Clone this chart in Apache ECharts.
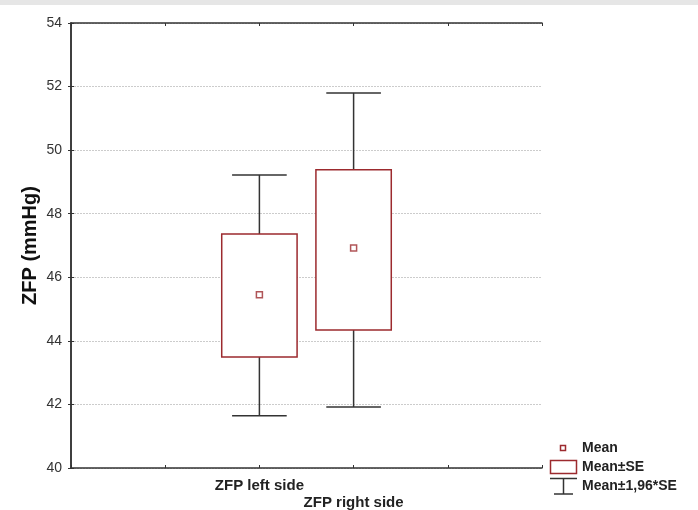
<!DOCTYPE html>
<html><head><meta charset="utf-8">
<script src="https://cdn.jsdelivr.net/npm/echarts@6/dist/echarts.min.js"></script>
<style>html,body{margin:0;padding:0;background:#fff}#c{width:698px;height:510px}</style>
</head><body><div id="c"></div>
<script>
const categories = ['ZFP left side', 'ZFP right side'];
const catPos = [2, 3];
const means = [45.45, 46.92];
const seLow = [43.49, 44.34];
const seHigh = [47.36, 49.38];
const ciLow = [41.64, 41.92];
const ciHigh = [49.22, 51.80];
const yTicks = [40, 42, 44, 46, 48, 50, 52, 54];

const RED = '#9c2a2e';
const DARK = '#333333';
const chart = echarts.init(document.getElementById('c'));

const boxData = categories.map((c, i) => [catPos[i], seLow[i], seHigh[i], ciLow[i], ciHigh[i]]);
const meanData = categories.map((c, i) => [catPos[i], means[i]]);

function renderBox(params, api) {
  const x = api.value(0);
  const lo = api.coord([x, api.value(1)]);
  const hi = api.coord([x, api.value(2)]);
  const wLo = api.coord([x, api.value(3)]);
  const wHi = api.coord([x, api.value(4)]);
  const unit = api.size([1, 0])[0];
  const bw = unit * 0.8;
  const cw = unit * 0.58;
  const cx = lo[0];
  return {
    type: 'group',
    children: [
      {type: 'line', shape: {x1: cx, y1: hi[1], x2: cx, y2: wHi[1]}, style: {stroke: DARK, lineWidth: 1.5}},
      {type: 'line', shape: {x1: cx, y1: lo[1], x2: cx, y2: wLo[1]}, style: {stroke: DARK, lineWidth: 1.5}},
      {type: 'line', shape: {x1: cx - cw / 2, y1: wHi[1], x2: cx + cw / 2, y2: wHi[1]}, style: {stroke: DARK, lineWidth: 1.5}},
      {type: 'line', shape: {x1: cx - cw / 2, y1: wLo[1], x2: cx + cw / 2, y2: wLo[1]}, style: {stroke: DARK, lineWidth: 1.5}},
      {type: 'rect', shape: {x: cx - bw / 2, y: hi[1], width: bw, height: lo[1] - hi[1]}, style: {fill: '#fff', stroke: RED, lineWidth: 1.5}}
    ]
  };
}

const font = 'Arial, "Liberation Sans", sans-serif';
const lblStyle = {fontFamily: font, fontSize: 15, color: '#222', fontWeight: 'bold'};

chart.setOption({
  animation: false,
  backgroundColor: '#fff',
  grid: {left: 71, right: 156, top: 23, bottom: 42, outerBoundsMode: 'none', containLabel: false},
  xAxis: [
    {type: 'value', min: 0, max: 5, interval: 1, position: 'bottom',
     axisLine: {show: true, lineStyle: {color: DARK, width: 1.5}},
     axisTick: {show: true, inside: true, length: 3, lineStyle: {color: DARK}},
     splitLine: {show: false},
     axisLabel: {show: true, margin: 10, interval: 0,
       formatter: function (v) { const i = catPos.indexOf(v); if (i < 0) return ''; return i === 0 ? '{a|' + categories[i] + '}' : '{b|' + categories[i] + '}'; },
       rich: {a: Object.assign({}, lblStyle, {padding: [0, 0, 0, 0]}), b: Object.assign({}, lblStyle, {padding: [17, 0, 0, 0]})}
     }},
    {type: 'value', min: 0, max: 5, interval: 1, position: 'top',
     axisLine: {show: true, lineStyle: {color: DARK, width: 1.5}},
     axisTick: {show: true, inside: true, length: 3, lineStyle: {color: DARK}},
     splitLine: {show: false}, axisLabel: {show: false}}
  ],
  yAxis: [
    {type: 'value', min: 40, max: 54, interval: 2, position: 'left',
     name: 'ZFP (mmHg)', nameLocation: 'middle', nameGap: 31, nameMoveOverlap: false,
     nameTextStyle: {fontFamily: font, fontSize: 20, fontWeight: 'bold', color: '#111'},
     axisLine: {show: true, lineStyle: {color: DARK, width: 1.5}},
     axisTick: {show: true, inside: true, length: 3, lineStyle: {color: DARK}},
     axisLabel: {fontFamily: font, fontSize: 14, color: '#333', margin: 9,
       formatter: function (v) { return yTicks.indexOf(v) >= 0 ? String(v) : ''; }},
     splitLine: {show: true, lineStyle: {color: '#cccccc', type: [2, 1], width: 1}}},
    {type: 'value', min: 40, max: 54, interval: 2, position: 'right',
     axisLine: {show: true, lineStyle: {color: DARK, width: 1.5}},
     axisTick: {show: true, inside: true, length: 3, lineStyle: {color: DARK}},
     axisLabel: {show: false}, splitLine: {show: false}}
  ],
  series: [
    {type: 'custom', renderItem: renderBox, data: boxData, encode: {x: 0, y: [1, 2, 3, 4]}, z: 3},
    {type: 'scatter', data: meanData, symbol: 'rect', symbolSize: 6,
     itemStyle: {color: '#fff', borderColor: RED, borderWidth: 1.5}, z: 5}
  ],
  graphic: [
    {type: 'rect', shape: {x: 0, y: 0, width: 698, height: 5}, style: {fill: '#e6e6e6'}, silent: true},
    {type: 'rect', shape: {x: 560.5, y: 445.5, width: 5, height: 5}, style: {fill: '#fff', stroke: RED, lineWidth: 1.5}},
    {type: 'text', x: 582, y: 448, style: {text: 'Mean', fontFamily: font, fontSize: 14, fontWeight: 'bold', fill: '#222', verticalAlign: 'middle'}},
    {type: 'rect', shape: {x: 550.5, y: 460.5, width: 26, height: 13}, style: {fill: '#fff', stroke: RED, lineWidth: 1.5}},
    {type: 'text', x: 582, y: 467, style: {text: 'Mean±SE', fontFamily: font, fontSize: 14, fontWeight: 'bold', fill: '#222', verticalAlign: 'middle'}},
    {type: 'line', shape: {x1: 550, y1: 478.5, x2: 577, y2: 478.5}, style: {stroke: DARK, lineWidth: 1.5}},
    {type: 'line', shape: {x1: 563.5, y1: 478.5, x2: 563.5, y2: 494}, style: {stroke: DARK, lineWidth: 1.5}},
    {type: 'line', shape: {x1: 554, y1: 494, x2: 573, y2: 494}, style: {stroke: DARK, lineWidth: 1.5}},
    {type: 'text', x: 582, y: 486, style: {text: 'Mean±1,96*SE', fontFamily: font, fontSize: 14, fontWeight: 'bold', fill: '#222', verticalAlign: 'middle'}}
  ]
});
</script></body></html>
